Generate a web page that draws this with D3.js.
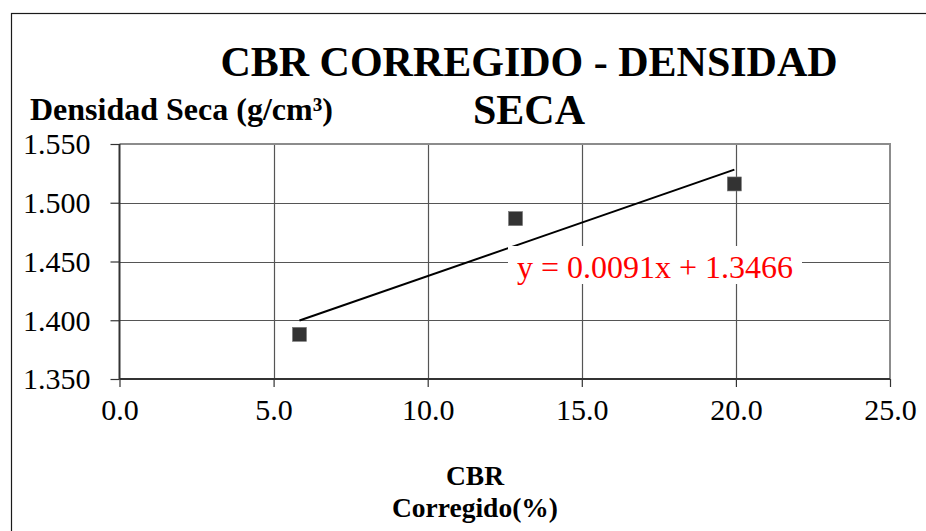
<!DOCTYPE html>
<html>
<head>
<meta charset="utf-8">
<script src="https://cdn.jsdelivr.net/npm/d3@7"></script>
<style>
  html, body { margin: 0; padding: 0; background: #fff; }
  svg { display: block; font-family: "Liberation Serif", "Times New Roman", serif; }
</style>
</head>
<body>
<svg id="chart" width="926" height="531"></svg>
<script>
// CBR corregido (%) vs densidad seca (g/cm³)
const cbrValues = [5.84, 12.85, 19.95];
const densityValues = [1.388, 1.4865, 1.516];
const xTickValues = [0, 5, 10, 15, 20, 25];
const yTickValues = [1.35, 1.40, 1.45, 1.50, 1.55];
// linear trendline coefficients (as printed in the equation label)
const trendSlope = 0.0091;
const trendIntercept = 1.3466;
const titleLines = ["CBR CORREGIDO - DENSIDAD", "SECA"];
const xTitleLines = ["CBR", "Corregido(%)"];
const yTitle = "Densidad Seca (g/cm³)";

const svg = d3.select("#chart");
const plot = { left: 119.5, right: 890, top: 144, bottom: 379 };

const x = d3.scaleLinear().domain([0, 25]).range([plot.left, plot.right]);
const y = d3.scaleLinear().domain([1.35, 1.55]).range([plot.bottom, plot.top]);

// outer chart frame
svg.append("rect")
  .attr("x", 11.5).attr("y", 13.5)
  .attr("width", 930).attr("height", 540)
  .attr("fill", "none").attr("stroke", "#1a1a1a").attr("stroke-width", 1.2);

// gridlines
const grid = svg.append("g");
grid.selectAll("line.h").data(yTickValues.slice(1, -1)).join("line")
  .attr("x1", plot.left).attr("x2", plot.right)
  .attr("y1", d => Math.round(y(d)) + 0.5).attr("y2", d => Math.round(y(d)) + 0.5)
  .attr("stroke", "#555").attr("stroke-width", 1.2);
grid.selectAll("line.v").data(xTickValues.slice(1, -1)).join("line")
  .attr("y1", plot.top).attr("y2", plot.bottom)
  .attr("x1", d => Math.round(x(d)) + 0.5).attr("x2", d => Math.round(x(d)) + 0.5)
  .attr("stroke", "#555").attr("stroke-width", 1.2);

// plot-area border (top and right in grey)
svg.append("path")
  .attr("d", `M${plot.left},${plot.top}H${plot.right}V${plot.bottom}`)
  .attr("fill", "none").attr("stroke", "#8c8c8c").attr("stroke-width", 2);

// axes
const xAxis = d3.axisBottom(x).tickValues(xTickValues).tickSize(8).tickPadding(12)
  .tickFormat(d3.format(".1f"));
const yAxis = d3.axisLeft(y).tickValues(yTickValues).tickSize(9).tickPadding(20)
  .tickFormat(d3.format(".3f"));

const gx = svg.append("g").attr("transform", `translate(0,${plot.bottom})`).call(xAxis);
const gy = svg.append("g").attr("transform", `translate(${plot.left},0)`).call(yAxis);
[gx, gy].forEach(g => {
  g.select(".domain").attr("stroke", "#333").attr("stroke-width", 2);
  g.selectAll(".tick line").attr("stroke", "#333").attr("stroke-width", 1.2);
  g.selectAll(".tick text")
    .attr("fill", "#000")
    .style("font-family", '"Liberation Serif", "Times New Roman", serif')
    .style("font-size", "30px");
});
gx.select(".domain").attr("d", `M${plot.left},0H${plot.right}`);
gy.select(".domain").attr("d", `M0,${plot.bottom}V${plot.top}`);
gy.selectAll(".tick text").attr("dy", "0.33em");
gx.selectAll(".tick text").attr("dy", "0.71em");

// trendline across the data range
const [xmin, xmax] = d3.extent(cbrValues);
svg.append("line")
  .attr("x1", x(xmin)).attr("y1", y(trendSlope * xmin + trendIntercept))
  .attr("x2", x(xmax)).attr("y2", y(trendSlope * xmax + trendIntercept))
  .attr("stroke", "#000").attr("stroke-width", 2);

// data markers
const s = 14;
svg.append("g").selectAll("rect").data(cbrValues).join("rect")
  .attr("x", d => x(d) - s / 2)
  .attr("y", (d, i) => y(densityValues[i]) - s / 2)
  .attr("width", s).attr("height", s)
  .attr("fill", "#333").attr("stroke", "#777").attr("stroke-width", 0.6);

// equation label on white box
const eq = svg.append("g");
eq.append("rect")
  .attr("x", 508).attr("y", 246).attr("width", 294).attr("height", 38)
  .attr("fill", "#fff");
eq.append("text")
  .attr("x", 517).attr("y", 278)
  .attr("fill", "#ff0000").style("font-size", "32px")
  .text(`y = ${trendSlope.toFixed(4)}x + ${trendIntercept.toFixed(4)}`);

// chart title
svg.append("g").selectAll("text").data(titleLines).join("text")
  .attr("x", 529).attr("y", (d, i) => 76 + i * 48)
  .attr("text-anchor", "middle")
  .style("font-size", "42px").style("font-weight", "bold")
  .text(d => d);

// axis titles
svg.append("text")
  .attr("x", 30).attr("y", 120)
  .style("font-size", "32px").style("font-weight", "bold")
  .text(yTitle);

svg.append("g").selectAll("text").data(xTitleLines).join("text")
  .attr("x", 475).attr("y", (d, i) => 485 + i * 32)
  .attr("text-anchor", "middle")
  .style("font-size", "27.5px").style("font-weight", "bold")
  .text(d => d);
</script>
</body>
</html>
